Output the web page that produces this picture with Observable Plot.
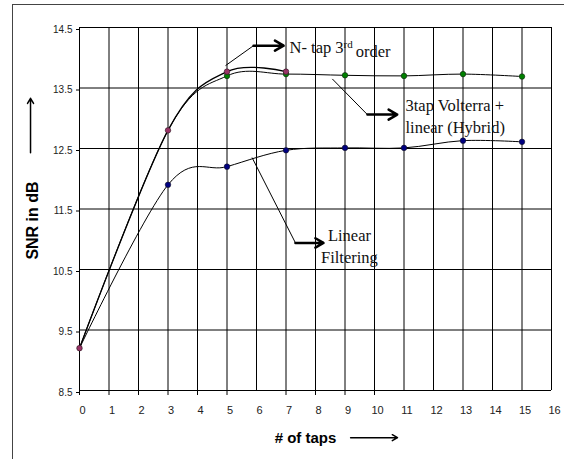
<!DOCTYPE html>
<html>
<head>
<meta charset="utf-8">
<script src="https://cdn.jsdelivr.net/npm/d3@7"></script>
<script src="https://cdn.jsdelivr.net/npm/@observablehq/plot@0.6"></script>
<style>
  html, body { margin: 0; padding: 0; background: #fff; overflow: hidden; }
  #wrap { position: relative; width: 564px; height: 459px; overflow: hidden; }
  #frame { position: absolute; left: 12px; top: 4px; width: 580px; height: 480px; border: 1px solid #444; box-sizing: border-box; }
  #chart { position: absolute; left: 0; top: 0; }
</style>
</head>
<body>
<div id="wrap"><div id="frame"></div><div id="chart"></div></div>
<script>
// ---- data ----
const xTickLabels = [0,1,2,3,4,5,6,7,8,9,10,11,12,13,14,15,16];
const xTickMarks = [0,1,2,3,4,5,7,8,9,10];
const yTicks = [8.5,9.5,10.5,11.5,12.5,13.5,14.5];

const nTapTaps = [0,3,5,7];
const nTapSNR  = [9.2,12.8,13.77,13.77];

const hybridTaps = [0,3,5,7,9,11,13,15];
const hybridSNR  = [9.2,12.8,13.70,13.73,13.71,13.70,13.73,13.69];

const linearTaps = [0,3,5,7,9,11,13,15];
const linearSNR  = [9.2,11.9,12.2,12.47,12.51,12.51,12.63,12.61];

// annotation texts (data units)
const annLabels = ["N- tap 3rd order", "3tap Volterra +\nlinear (Hybrid)", "Linear\nFiltering"];
const annX = [7.12, 11.05, 9.15];
const annY = [14.2, 13.05, 10.9];
// leader lines and arrows (data units)
const leadX1 = [4.95, 8.57, 5.85], leadY1 = [13.87, 13.65, 12.35];
const leadX2 = [5.9, 9.76, 7.32],  leadY2 = [14.2, 13.06, 10.94];
const arrX2 = [6.92, 10.77, 8.27];

const axisTitles = ["SNR in dB", "# of taps"];

// ---- build tables ----
const zip = (xs, ys, s) => xs.map((x, i) => ({x, y: ys[i], s}));
const nTap = zip(nTapTaps, nTapSNR, "n");
const hybrid = zip(hybridTaps, hybridSNR, "h");
const linear = zip(linearTaps, linearSNR, "l");
const ann = annLabels.map((t, i) => ({t, x: annX[i], y: annY[i]}));
const leads = leadX1.map((x1, i) => ({x1, y1: leadY1[i], x2: leadX2[i], y2: leadY2[i], x3: arrX2[i]}));

const serif = "'Liberation Serif', 'Times New Roman', serif";
const curve = d3.curveCatmullRom.alpha(0);
const annStyle = {x: "x", y: "y", text: "t", fontFamily: serif, fontSize: 16.5, lineHeight: 1.32, fill: "#111"};

const chart = Plot.plot({
  width: 564, height: 459,
  marginLeft: 79, marginRight: 13, marginTop: 27, marginBottom: 69,
  x: {domain: [0, 16], label: null},
  y: {domain: [8.5, 14.5], label: null},
  style: {fontFamily: "'Liberation Sans', Arial, sans-serif", background: "transparent", overflow: "visible", color: "#000"},
  marks: [
    Plot.gridX(xTickLabels.slice(1), {stroke: "#000", strokeOpacity: 1, strokeWidth: 1}),
    Plot.gridY(yTicks.slice(1), {stroke: "#000", strokeOpacity: 1, strokeWidth: 1}),
    Plot.ruleX([0], {stroke: "#000"}),
    Plot.ruleY([8.5], {stroke: "#000"}),
    Plot.axisY(yTicks, {tickSize: 3, tickPadding: 4, tickFormat: d => d.toFixed(1), fontSize: 10, fill: "#222", dy: 2, label: null}),
    Plot.axisX(xTickMarks, {tickSize: 5, tickFormat: () => "", label: null}),
    Plot.axisX(xTickLabels, {tickSize: 0, tickPadding: 16, fontSize: 11, fill: "#222", dx: 3, label: null}),
    Plot.line(linear, {x: "x", y: "y", curve, stroke: "#000", strokeWidth: 1}),
    Plot.line(hybrid, {x: "x", y: "y", curve, stroke: "#000", strokeWidth: 1}),
    Plot.line(nTap, {x: "x", y: "y", curve, stroke: "#000", strokeWidth: 1.3}),
    Plot.dot(linear.slice(1), {x: "x", y: "y", r: 2.8, fill: "#000080", stroke: "#111", strokeWidth: 0.5}),
    Plot.dot(hybrid.slice(2), {x: "x", y: "y", r: 2.8, fill: "#008000", stroke: "#111", strokeWidth: 0.5}),
    Plot.dot(nTap, {x: "x", y: "y", r: 2.8, fill: "#993366", stroke: "#111", strokeWidth: 0.5}),
    Plot.link(leads, {x1: "x1", y1: "y1", x2: "x2", y2: "y2", stroke: "#000", strokeWidth: 1}),
    Plot.arrow(leads, {x1: "x2", y1: "y2", x2: "x3", y2: "y2", stroke: "#000", strokeWidth: 2.5, headLength: 7}),
    Plot.text(ann.slice(0, 2), {...annStyle, textAnchor: "start"}),
    Plot.text(ann.slice(2), {...annStyle, textAnchor: "middle"}),
    Plot.text([axisTitles[0]], {x: -1.59, y: 11.31, rotate: -90, fontWeight: "bold", fontSize: 16, fill: "#000"}),
    Plot.arrow([0], {x1: -1.66, x2: -1.66, y1: 12.43, y2: 13.33, stroke: "#000", strokeWidth: 1.5, headLength: 6}),
    Plot.text([axisTitles[1]], {x: 7.66, y: 7.72, fontWeight: "bold", fontSize: 15, fill: "#000"}),
    Plot.arrow([0], {x1: 9.19, x2: 10.78, y1: 7.72, y2: 7.72, stroke: "#000", strokeWidth: 1.5, headLength: 6})
  ]
});
document.getElementById("chart").appendChild(chart);

// superscript for "3rd"
d3.select(chart).selectAll("text").filter(function() { return this.textContent === annLabels[0]; })
  .each(function() {
    const t = d3.select(this);
    t.text(null);
    t.append("tspan").text("N- tap 3");
    t.append("tspan").attr("font-size", 11).attr("dy", -5).text("rd");
    t.append("tspan").attr("dx", 3).attr("dy", 9).text("order");
  });
</script>
</body>
</html>
